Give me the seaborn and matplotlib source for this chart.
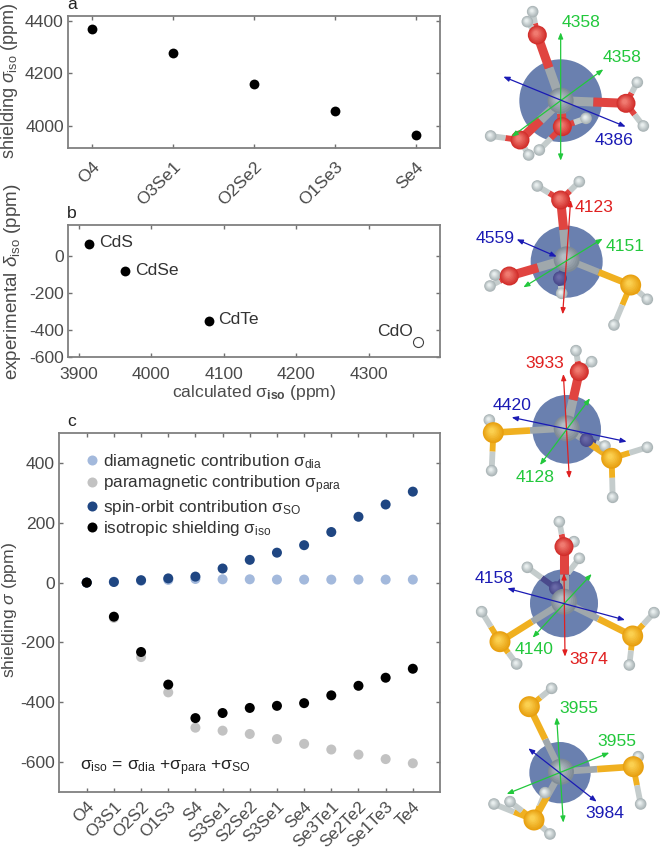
import numpy as np
import pandas as pd
import matplotlib
matplotlib.use("Agg")
import matplotlib.pyplot as plt
import matplotlib.transforms as mtrans
from matplotlib.patches import Circle
import seaborn as sns

# panel a
sites_a = ["O4", "O3Se1", "O2Se2", "O1Se3", "Se4"]
shield_a = [4368, 4278, 4160, 4057, 3964]

# panel b
names_b = ["CdS", "CdSe", "CdTe", "CdO"]
calc_b = [3914, 3964, 4079, 4368]
exp_b = [64, -84, -347, -460]

# panel c
sites_c = ["O4", "O3S1", "O2S2", "O1S3", "S4", "S3Se1", "S2Se2", "S3Se1", "Se4",
           "Se3Te1", "Se2Te2", "Se1Te3", "Te4"]
sigma_dia = [0, 3, 6, 9, 12, 11, 11, 10, 10, 10, 10, 10, 10]
sigma_para = [0, -118, -249, -367, -485, -495, -506, -523, -539, -558, -575, -590, -604]
sigma_so = [0, 2, 8, 14, 20, 47, 76, 100, 125, 169, 220, 261, 304]
sigma_iso = [0, -114, -232, -341, -453, -436, -419, -412, -403, -377, -345, -318, -288]

sns.set_theme(style="ticks")
plt.rcParams["font.family"] = ["Liberation Sans", "DejaVu Sans"]
plt.rcParams["mathtext.fontset"] = "custom"
plt.rcParams["mathtext.rm"] = "Liberation Sans"
plt.rcParams["mathtext.it"] = "Liberation Sans:italic"
plt.rcParams["mathtext.bf"] = "Liberation Sans:bold"
plt.rcParams["axes.unicode_minus"] = False

W, H = 666, 852
FS = 12.6
GREY = "#4a4a4a"
fig = plt.figure(figsize=(W / 100, H / 100), dpi=100)


def make_axes(left, top, right, bottom):
    ax = fig.add_axes([left / W, 1 - bottom / H, (right - left) / W, (bottom - top) / H])
    for s in ax.spines.values():
        s.set_color("#808080")
        s.set_linewidth(1.3)
    ax.tick_params(direction="in", length=3, width=1, color="#707070", top=True, right=True,
                   labelsize=FS, labelcolor=GREY, pad=3)
    return ax


def slant_labels(ax, labels, shift, size=FS):
    ax.set_xticklabels(labels, rotation=45, ha="right", rotation_mode="anchor", fontsize=size)
    off = mtrans.ScaledTranslation(shift / 100, 0, fig.dpi_scale_trans)
    for t in ax.get_xticklabels():
        t.set_transform(t.get_transform() + off)


# panel a
ax_a = make_axes(68, 16, 440, 148)
sns.scatterplot(x=list(range(len(sites_a))), y=shield_a, color="black", s=50, linewidth=0, ax=ax_a)
ax_a.set_xlim(-0.3, 4.3)
ax_a.set_ylim(3916, 4419)
ax_a.set_yticks([4000, 4200, 4400])
ax_a.set_xticks(range(len(sites_a)))
slant_labels(ax_a, sites_a, 14)
ax_a.tick_params(axis="x", pad=8)
fig.text(10 / W, 1 - 81 / H, r"shielding $\sigma_{\mathrm{iso}}$ (ppm)", rotation=90, fontsize=13,
         color=GREY, ha="center", va="center")

# panel b
ax_b = make_axes(68, 225, 440, 357)
sns.scatterplot(x=calc_b[:3], y=exp_b[:3], color="black", s=50, linewidth=0, ax=ax_b)
ax_b.scatter(calc_b[3:], exp_b[3:], s=52, facecolor="white", edgecolor="#404040", linewidth=0.8)
ax_b.set_xlim(3885, 4398)
ax_b.set_ylim(-542, 165)
ax_b.set_xticks([3900, 4000, 4100, 4200, 4300])
# the -600 label sits on the bottom edge in the original
ax_b.set_yticks([-542, -400, -200, 0])
ax_b.set_yticklabels(["-600", "-400", "-200", "0"])
ax_b.tick_params(axis="x", pad=7)
for name, x, y in zip(names_b[:3], calc_b[:3], exp_b[:3]):
    ax_b.annotate(name, (x, y), xytext=(7, 1), textcoords="offset points", fontsize=FS,
                  color="#333333", va="center")
ax_b.annotate(names_b[3], (calc_b[3], exp_b[3]), xytext=(-4, 7), textcoords="offset points",
              fontsize=FS, color="#333333", ha="right", va="center")
fig.text(254 / W, 1 - 393 / H, r"calculated $\mathrm{\sigma}_{\mathbf{iso}}$ (ppm)", fontsize=FS,
         color=GREY, ha="center", va="center")
fig.text(13 / W, 1 - 282 / H, r"experimental $\delta_{\mathrm{iso}}$ (ppm)", rotation=90, fontsize=13.6,
         color=GREY, ha="center", va="center")

# panel c
ax_c = make_axes(59, 433, 440, 792)
series_names = [r"diamagnetic contribution σ$_{\mathrm{dia}}$",
                r"paramagnetic contribution σ$_{\mathrm{para}}$",
                r"spin-orbit contribution σ$_{\mathrm{SO}}$",
                r"isotropic shielding σ$_{\mathrm{iso}}$"]
series_vals = [sigma_dia, sigma_para, sigma_so, sigma_iso]
df_c = pd.concat([pd.DataFrame({"pos": range(len(sites_c)), "val": v, "kind": n})
                  for n, v in zip(series_names, series_vals)])
sns.scatterplot(data=df_c, x="pos", y="val", hue="kind", hue_order=series_names,
                palette=["#a3b9dc", "#c2c2c2", "#1f4682", "#000000"], s=52, linewidth=0, ax=ax_c)
ax_c.set_xlim(-1.02, 13)
ax_c.set_ylim(-700, 500)
ax_c.set_yticks([-600, -400, -200, 0, 200, 400])
ax_c.set_xticks(range(len(sites_c)))
slant_labels(ax_c, sites_c, 12, size=12.2)
ax_c.tick_params(axis="x", pad=5)
ax_c.set_xlabel("")
ax_c.set_ylabel("")
handles, labels = ax_c.get_legend_handles_labels()
ax_c.legend(handles, labels, frameon=False, fontsize=12.3, labelcolor="#333333", loc="upper left",
            bbox_to_anchor=(0.037, 0.98), labelspacing=0.12, handlelength=0.8, handletextpad=0.25,
            borderpad=0.2, markerscale=1.0)
fig.text(80 / W, 1 - 768 / H, r"σ$_{\mathrm{iso}}$ = σ$_{\mathrm{dia}}$ +σ$_{\mathrm{para}}$ +σ$_{\mathrm{SO}}$",
         fontsize=FS, color="#222222", ha="left", va="center")
fig.text(10 / W, 1 - 610 / H, r"shielding $\sigma$ (ppm)", rotation=90, fontsize=FS,
         color=GREY, ha="center", va="center")

for lab, y in zip("abc", [9, 218, 426]):
    fig.text(72 / W, 1 - y / H, lab, fontsize=FS, color="#222222", ha="center", va="baseline")

# molecules, drawn on a pixel overlay
ov = fig.add_axes([0, 0, 1, 1])
ov.set_xlim(0, W)
ov.set_ylim(H, 0)
ov.axis("off")
ov.patch.set_alpha(0)

ATOM = {"O": ("#d22f2c", "#f07a70", 9.5), "S": ("#e8a010", "#fbd050", 10.5),
        "H": ("#aab4b6", "#e8eeee", 5.8), "Cd": ("#7f8b95", "#b4bec4", 13),
        "D": ("#4a4a8c", "#6a6aa8", 7)}
BOND = {"O": "#e04440", "S": "#f0b020", "D": "#4a4a8c"}
BOND_W = {"O": 6.5, "S": 4.8, "D": 4.5}


def ball(x, y, kind):
    dark, light, r = ATOM[kind]
    c0, c1 = np.array(matplotlib.colors.to_rgb(dark)), np.array(matplotlib.colors.to_rgb(light))
    for k, f in enumerate(np.linspace(1, 0.25, 7)):
        c = c0 + (c1 - c0) * (k / 6)
        ov.add_patch(Circle((x - (1 - f) * r * 0.2, y - (1 - f) * r * 0.25), r * f, color=c, lw=0, zorder=5))


def bond(x0, y0, x1, y1, c0, c1, lw):
    xm, ym = (x0 + x1) / 2, (y0 + y1) / 2
    ov.plot([x0, xm], [y0, ym], color=c0, lw=lw, solid_capstyle="butt", zorder=4)
    ov.plot([xm, x1], [ym, y1], color=c1, lw=lw, solid_capstyle="butt", zorder=4)


def molecule(oy, sphere, cd, ligands, arrows, texts):
    # all coordinates here are read at 3x from the right column, oy is the crop top
    P = lambda x, y: (450 + x / 3, oy + y / 3)
    sx, sy = P(sphere[0], sphere[1])
    ov.add_patch(Circle((sx, sy), sphere[2] / 3, color="#5d75a8", alpha=0.92, lw=0, zorder=3))
    cx, cy = P(*cd)
    for kind, pos, hs in ligands:
        ax_, ay_ = P(*pos)
        for h in hs:
            hx, hy = P(*h)
            bond(ax_, ay_, hx, hy, BOND[kind], "#c4cccc", 4.2)
            ball(hx, hy, "H")
        bond(cx, cy, ax_, ay_, "#a0a8ac", BOND[kind], BOND_W[kind])
        ball(ax_, ay_, kind)
    ball(cx, cy, "Cd")
    for x0, y0, x1, y1, col in arrows:
        ov.annotate("", xy=P(x1, y1), xytext=P(x0, y0), zorder=6,
                    arrowprops=dict(arrowstyle="<|-|>,head_length=0.3,head_width=0.12", color=col, lw=0.9,
                                    shrinkA=0, shrinkB=0))
    for s, x, y, col in texts:
        px, py = P(x, y)
        ov.text(px, py, s, color=col, fontsize=FS, ha="center", va="center", zorder=7)


G, B, R = "#22c83c", "#1a1ab4", "#e02020"

molecule(0, (332, 302, 124), (332, 302),
         [("O", (262, 105), [(248, 35), (232, 65)]),
          ("O", (528, 310), [(562, 247), (580, 378)]),
          ("O", (210, 420), [(122, 408), (236, 465)]),
          ("O", (337, 380), [(408, 355), (268, 450)])],
         [(332, 482, 332, 97, G), (185, 410, 460, 208, G), (160, 230, 527, 380, B)],
         [("4358", 392, 68, G), ("4358", 516, 173, G), ("4386", 492, 422, B)])

molecule(0, (350, 785, 108), (350, 778),
         [("D", (330, 835), [(335, 880)]),
          ("O", (332, 600), [(262, 558), (388, 545)]),
          ("O", (178, 828), [(135, 825), (120, 858)]),
          ("S", (542, 855), [(592, 898), (492, 975)])],
         [(362, 600, 338, 943, R), (220, 862, 458, 716, G), (200, 718, 320, 770, B)],
         [("4123", 432, 622, R), ("4559", 135, 716, B), ("4151", 525, 740, G)])

molecule(340, (350, 268, 103), (350, 265),
         [("D", (410, 300), [(465, 318)]),
          ("O", (388, 95), [(378, 32), (425, 65)]),
          ("S", (130, 278), [(118, 240), (125, 392)]),
          ("S", (485, 355), [(592, 322), (488, 472)])],
         [(340, 102, 358, 415, R), (270, 375, 420, 175, G), (185, 232, 530, 305, B)],
         [("3933", 285, 70, R), ("4420", 185, 198, B), ("4128", 255, 412, G)])

molecule(340, (342, 790, 102), (342, 785),
         [("D", (318, 745), [(232, 682), (388, 655)]),
          ("O", (342, 620), [(328, 545), (372, 605)]),
          ("S", (150, 905), [(95, 815), (200, 972)]),
          ("S", (548, 888), [(612, 818), (538, 975)])],
         [(342, 700, 345, 950, R), (248, 893, 425, 702, G), (172, 745, 525, 840, B)],
         [("4158", 132, 716, B), ("4140", 252, 928, G), ("3874", 416, 960, R)])

molecule(340, (330, 1298, 92), (333, 1295),
         [("S", (238, 1100), [(305, 1045)]),
          ("S", (550, 1280), [(565, 1250), (572, 1392)]),
          ("S", (252, 1440), [(132, 1392), (300, 1482), (180, 1385), (285, 1358)])],
         [(320, 1132, 340, 1448, G), (170, 1362, 478, 1238, G), (235, 1225, 440, 1385, B)],
         [("3955", 386, 1105, G), ("3955", 500, 1205, G), ("3984", 466, 1420, B)])

fig.savefig("out.png", dpi=100)
